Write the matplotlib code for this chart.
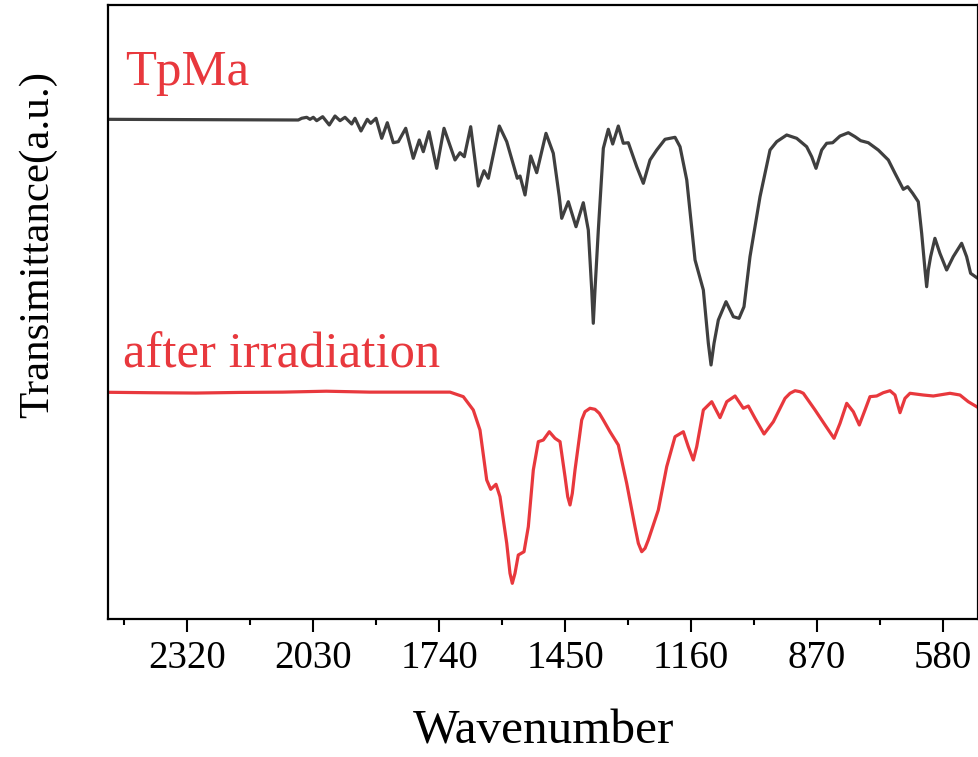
import numpy as np
import matplotlib.pyplot as plt
from matplotlib.ticker import MultipleLocator

# FTIR spectra (wavenumber in cm-1, transmittance in a.u.)
wn_tpma = [2502, 2064.4, 2056.6, 2045.1, 2037.5, 2029.9, 2022.1, 2008.3, 1993.1, 1979.9,
           1968.4, 1956.9, 1941.5, 1933.9, 1920.1, 1905.6, 1897.7, 1885.5, 1872.4, 1859.5,
           1845.7, 1834.2, 1817.1, 1799.7, 1785.8, 1776.6, 1763.5, 1745.8, 1728.9, 1703.6,
           1692.1, 1682.2, 1667.5, 1650.0, 1636.8, 1626.9, 1601.6, 1584.5, 1560.2, 1553.9,
           1542.4, 1529.3, 1515.5, 1494.1, 1477.3, 1463.5, 1457.9, 1442.7, 1425.0, 1408.2,
           1396.7, 1388.8, 1385.2, 1381.3, 1373.6, 1362.1, 1350.6, 1340.5, 1327.6, 1316.1,
           1304.6, 1285.2, 1270.0, 1254.6, 1239.2, 1220.0, 1197.0, 1185.5, 1170.0, 1150.9,
           1131.8, 1120.3, 1114.1, 1107.2, 1097.3, 1079.6, 1062.7, 1049.6, 1038.2, 1024.4,
           1001.3, 978.3, 962.9, 939.9, 916.9, 893.9, 882.3, 872.4, 859.3, 847.8,
           834.0, 817.1, 798.0, 782.6, 769.5, 752.0, 729.0, 705.9, 690.5, 671.4,
           661.3, 649.8, 636.9, 629.1, 621.4, 617.6, 613.8, 608.5, 598.6, 587.1,
           571.6, 556.4, 537.1, 525.6, 516.4, 500.2]
t_tpma = [81.38, 81.27, 81.55, 81.71, 81.38, 81.71, 81.16, 81.81, 80.46, 81.92,
          81.16, 81.71, 80.62, 81.55, 79.48, 81.38, 80.73, 81.55, 78.29, 80.83,
          77.57, 77.74, 79.92, 75.03, 78.01, 76.11, 79.36, 73.40, 79.92, 74.76,
          75.94, 75.29, 80.18, 70.52, 73.01, 71.78, 80.29, 77.74, 71.78, 72.15,
          69.06, 75.41, 72.69, 79.10, 75.85, 68.78, 65.26, 67.96, 63.89, 67.80,
          63.36, 53.58, 48.16, 53.58, 63.36, 76.66, 79.76, 77.36, 80.29, 77.48,
          77.57, 73.66, 70.96, 74.76, 76.38, 78.13, 78.45, 76.92, 71.50, 58.47,
          53.58, 44.90, 41.37, 44.90, 48.70, 51.68, 49.23, 48.97, 50.86, 59.01,
          68.78, 76.38, 77.74, 78.83, 78.29, 76.92, 75.29, 73.40, 76.38, 77.48,
          77.57, 78.66, 79.20, 78.55, 77.90, 77.57, 76.38, 74.76, 72.59, 69.98,
          70.41, 69.33, 67.96, 62.82, 56.84, 54.12, 56.84, 59.01, 62.00, 59.56,
          56.84, 59.01, 61.19, 59.01, 56.30, 55.49]

wn_irr = [2498, 2400, 2300, 2200, 2100, 2000, 1900, 1800, 1715.1, 1684.5,
          1661.5, 1646.1, 1630.6, 1621.4, 1609.2, 1600.0, 1584.5, 1577.0, 1571.7, 1565.5,
          1557.9, 1544.7, 1534.8, 1523.3, 1511.8, 1500.3, 1486.5, 1473.4, 1461.8, 1450.3,
          1444.1, 1438.8, 1433.5, 1427.3, 1411.9, 1404.3, 1392.8, 1381.3, 1371.3, 1362.1,
          1346.7, 1327.6, 1308.3, 1289.2, 1281.5, 1273.7, 1266.1, 1258.5, 1235.5, 1216.2,
          1197.0, 1177.9, 1166.4, 1154.9, 1147.1, 1131.8, 1112.5, 1093.4, 1077.9, 1058.8,
          1039.7, 1028.2, 1012.8, 992.0, 970.6, 943.7, 932.2, 920.7, 909.2, 901.6,
          874.6, 851.6, 830.9, 817.1, 801.7, 786.5, 772.7, 759.6, 748.1, 732.7,
          717.4, 702.0, 690.5, 679.0, 667.5, 656.0, 625.4, 602.3, 563.9, 540.9,
          521.8, 502.5]
t_irr = [36.92, 36.85, 36.80, 36.90, 36.95, 37.10, 36.95, 36.95, 36.95, 36.21,
         34.04, 30.78, 22.64, 21.12, 21.94, 19.92, 12.33, 7.44, 5.81, 7.44,
         10.42, 10.96, 15.03, 24.27, 28.88, 29.15, 30.50, 29.43, 28.88, 23.18,
         19.92, 18.57, 20.47, 24.27, 32.41, 33.76, 34.32, 34.15, 33.50, 32.41,
         30.50, 28.34, 22.10, 15.03, 12.33, 10.96, 11.51, 12.87, 17.75, 24.80,
         29.69, 30.50, 28.06, 25.90, 28.06, 34.04, 35.39, 32.79, 35.39, 36.32,
         34.32, 34.69, 32.69, 30.13, 32.13, 35.94, 36.76, 37.18, 37.02, 36.76,
         34.04, 31.60, 29.43, 31.87, 35.13, 33.76, 31.60, 34.04, 36.21, 36.32,
         36.86, 37.18, 36.48, 33.60, 35.94, 36.76, 36.48, 36.32, 36.76, 36.48,
         35.39, 34.58]

xticks = [2320, 2030, 1740, 1450, 1160, 870, 580]

black = '#3f3f3f'
red = '#e8383d'

plt.rcParams['font.family'] = ['Liberation Serif', 'DejaVu Serif']

fig = plt.figure(figsize=(9.79, 7.57), dpi=100)
ax = fig.add_axes([108 / 979, 1 - 619 / 757, 870 / 979, 614 / 757])

ax.plot(wn_tpma, t_tpma, color=black, lw=2.3, solid_joinstyle='round')
ax.plot(wn_irr, t_irr, color=red, lw=2.3, solid_joinstyle='round')

ax.set_xlim(2502.6, 499.4)
ax.set_ylim(0, 100)
ax.set_xticks(xticks)
ax.set_xticklabels([str(v) for v in xticks])
ax.xaxis.set_minor_locator(MultipleLocator(145))
ax.set_yticks([])
ax.tick_params(axis='x', which='major', direction='out', length=9, width=1.5,
               labelsize=28, pad=6)
ax.tick_params(axis='x', which='minor', direction='out', length=4.5, width=1.5)
for s in ax.spines.values():
    s.set_linewidth(1.6)

ax.text(0.02, 0.87, 'TpMa', transform=ax.transAxes, color=red, fontsize=36.5,
        va='baseline')
ax.text(0.017, 0.41, 'after irradiation', transform=ax.transAxes, color=red,
        fontsize=36.5, va='baseline')

fig.text(544 / 979, 1 - 743 / 757, 'Wavenumber', fontsize=35.5, ha='center',
         va='baseline')
fig.text(38 / 979, 1 - 245 / 757, 'Transimittance(a.u.)', fontsize=31,
         rotation=90, ha='center', va='center')

fig.savefig('out.png', dpi=100)
